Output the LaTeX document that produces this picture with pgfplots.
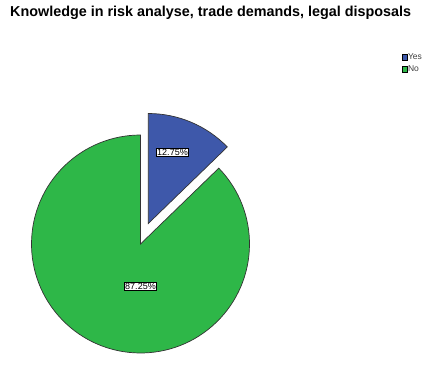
\documentclass[border=0pt]{standalone}
\usepackage{fontspec}
\setmainfont{Liberation Sans}
\usepackage{pgfplots}
\usepackage{pgfplotstable}
\pgfplotsset{compat=1.18}
\definecolor{pieblue}{RGB}{62,88,170}
\definecolor{piegreen}{RGB}{46,183,72}
\pgfplotstableread{
label value
Yes 12.75
No 87.25
}\piedata
\pgfplotstablegetelem{0}{value}\of\piedata\let\valyes\pgfplotsretval
\pgfplotstablegetelem{1}{value}\of\piedata\let\valno\pgfplotsretval
\pgfmathsetmacro{\angyes}{90-3.6*\valyes}
\pgfmathsetmacro{\angno}{\angyes-3.6*\valno}
\begin{document}%
\begin{tikzpicture}
\begin{axis}[
  width=432bp, height=355bp, scale only axis,
  xmin=0, xmax=432, ymin=0, ymax=355,
  hide axis, clip=false,
]
\path (axis cs:0,0) rectangle (axis cs:432,355);
% No wedge
\filldraw[fill=piegreen, draw=black!80, line width=0.7bp]
  (axis cs:140.5,111) -- ++(\angyes:109bp)
  arc[start angle=\angyes, end angle=\angno, radius=109bp] -- cycle;
% Yes wedge (exploded)
\filldraw[fill=pieblue, draw=black!80, line width=0.7bp]
  (axis cs:148.3,131.5) -- ++(90:110bp)
  arc[start angle=90, end angle=\angyes, radius=110bp] -- cycle;
% value labels
\node[fill=white, draw=black, line width=0.5bp, inner sep=0.8bp, font=\fontsize{9bp}{10bp}\selectfont]
  at (axis cs:172.5,203) {\pgfmathprintnumber[fixed,fixed zerofill,precision=2,assume math mode=true]{\valyes}\%};
\node[fill=white, draw=black, line width=0.5bp, inner sep=0.8bp, font=\fontsize{9bp}{10bp}\selectfont]
  at (axis cs:140.5,69) {\pgfmathprintnumber[fixed,fixed zerofill,precision=2,assume math mode=true]{\valno}\%};
% title
\node[anchor=west, inner sep=0pt] at (axis cs:10,342) {\resizebox{401bp}{!}{\bfseries Knowledge in risk analyse, trade demands, legal disposals}};
% legend
\filldraw[fill=pieblue, draw=black, line width=0.5bp] (axis cs:402,295) rectangle (axis cs:407.5,301);
\filldraw[fill=piegreen, draw=black, line width=0.5bp] (axis cs:402,283) rectangle (axis cs:407.5,289);
\node[anchor=west, inner sep=0pt, font=\fontsize{8.5bp}{9bp}\selectfont, text=black!75] at (axis cs:407.8,298) {Yes};
\node[anchor=west, inner sep=0pt, font=\fontsize{8.5bp}{9bp}\selectfont, text=black!75] at (axis cs:407.8,286) {No};
\end{axis}
\end{tikzpicture}%
\end{document}
